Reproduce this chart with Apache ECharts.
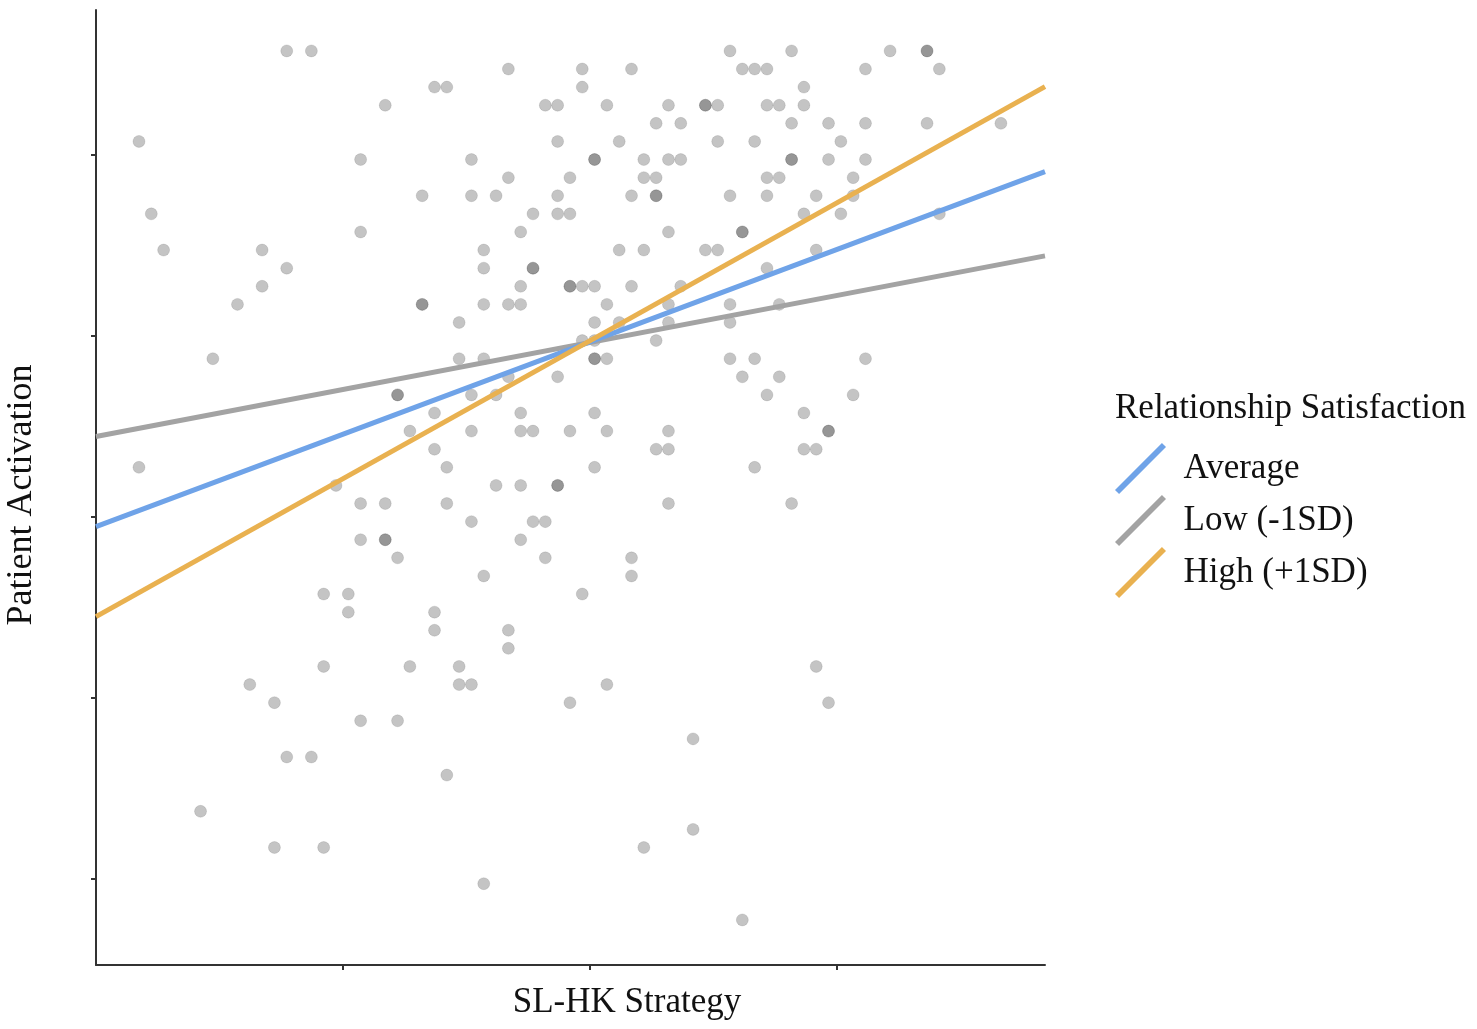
<!DOCTYPE html>
<html><head><meta charset="utf-8">
<script src="https://cdn.jsdelivr.net/npm/echarts@6/dist/echarts.min.js"></script>
<style>html,body{margin:0;padding:0;background:#fff}#chart{width:1477px;height:1029px}</style>
</head><body><div id="chart"></div>
<script>
// SL-HK Strategy (grid units) for every respondent
const strategyX = [
  12,14,20,0,18,23,1,18,2,10,12,10,8,23,23,
  48,30,36,40,49,24,25,36,33,34,38,43,46,46,47,42,44,34,39,47,
  27,37,37,41,43,44,30,35,41,42,27,29,34,40,42,42,48,32,34,35,
  31,43,49,49,28,39,41,46,47,28,32,32,31,35,35,36,37,40,44,
  28,30,31,38,43,48,26,37,39,43,48,36,37,42,
  53,61,64,64,50,51,59,65,54,51,52,54,53,56,59,64,70,50,57,
  53,53,56,59,51,52,58,51,55,58,54,57,65,55,51,52,
  6,21,21,22,0,16,18,20,18,20,20,21,15,17,17,
  26,28,37,37,38,48,30,34,49,27,29,24,31,37,
  27,31,32,35,38,43,24,42,43,25,37,29,31,34,34,
  25,43,27,32,33,31,33,40,28,40,36,24,24,30,30,
  50,59,52,51,58,54,56,56,54,55,50,53,
  15,22,9,11,18,21,12,14,5,11,15,
  26,26,27,38,35,45,25,45,41,28,49,
  55,56
];
// Patient Activation (grid units)
const activationY = [
  48,48,45,43,42,40,39,38,37,37,36,35,34,34,34,
  48,47,47,47,47,46,46,46,45,45,45,45,45,45,45,44,44,43,43,43,
  42,42,42,42,42,42,41,41,41,41,40,40,40,40,40,40,40,39,39,39,
  38,38,38,38,37,37,37,37,37,36,36,36,35,35,35,35,35,35,35,
  34,34,34,34,34,34,33,33,33,33,33,32,32,32,
  48,48,48,48,47,47,47,47,46,45,45,45,44,44,44,44,44,43,43,
  42,42,42,42,41,41,41,40,40,40,39,39,39,37,36,34,
  31,29,29,27,25,24,23,23,21,21,21,20,18,18,17,
  31,31,31,31,31,31,30,30,30,29,29,28,28,28,
  27,27,27,27,27,27,26,26,26,25,25,24,24,24,24,
  23,23,22,22,22,21,20,20,19,19,18,17,16,16,15,
  31,31,30,29,29,28,27,27,26,26,25,23,
  14,14,13,12,11,11,9,9,6,4,4,
  14,13,13,13,12,10,8,5,4,2,0,
  14,12
];
// simple-slope lines (start and end along the x range)
const lineX = [-3.49, 73.58];
const avgY  = [21.72, 41.33];
const lowY  = [26.70, 36.68];
const highY = [16.75, 46.03];
const seriesNames = ['Average', 'Low (-1SD)', 'High (+1SD)'];
const xTicks = [16.57, 36.63, 56.69];
const yTicks = [2.25, 12.25, 22.25, 32.25, 42.25];
const xTitle = 'SL-HK Strategy';
const yTitle = 'Patient Activation';
const legendTitle = 'Relationship Satisfaction';

const FONT = '"Liberation Serif", "Times New Roman", serif';
const pts = strategyX.map((x, i) => [x, activationY[i]]);
const mkLine = ys => lineX.map((x, i) => [x, ys[i]]);

const chart = echarts.init(document.getElementById('chart'), null, {renderer: 'canvas'});
const axisCommon = {
  type: 'value',
  axisLine: {show: true, onZero: false, lineStyle: {color: '#333', width: 2}},
  axisLabel: {show: false},
  splitLine: {show: false}
};
chart.setOption({
  animation: false,
  backgroundColor: '#ffffff',
  grid: {left: 96, right: 432, top: 10, bottom: 64},
  xAxis: Object.assign({}, axisCommon, {
    min: -3.49, max: 73.58,
    axisTick: {show: true, length: 5, lineStyle: {color: '#333', width: 2}, customValues: xTicks}
  }),
  yAxis: Object.assign({}, axisCommon, {
    min: -2.49, max: 50.26,
    axisTick: {show: true, length: 5, lineStyle: {color: '#333', width: 2}, customValues: yTicks}
  }),
  legend: {
    data: seriesNames,
    orient: 'vertical',
    left: 1110, top: 438,
    itemWidth: 52, itemHeight: 51, itemGap: 1,
    icon: 'path://M0,46 L46,0 L50,4 L4,50 Z',
    itemStyle: {borderWidth: 0},
    textStyle: {fontFamily: FONT, fontSize: 35, color: '#111', padding: [0, 0, 15, 12]},
    selectedMode: false
  },
  graphic: [
    {type: 'text', style: {text: xTitle, x: 627, y: 1003, font: '35px ' + FONT, fill: '#111', align: 'center', verticalAlign: 'middle'}},
    {type: 'text', x: 22, y: 495, rotation: Math.PI / 2, style: {text: yTitle, x: 0, y: 0, font: '36px ' + FONT, fill: '#111', align: 'center', verticalAlign: 'middle'}},
    {type: 'text', style: {text: legendTitle, x: 1115, y: 409, font: '35px ' + FONT, fill: '#111', align: 'left', verticalAlign: 'middle'}}
  ],
  series: [
    {
      name: 'points', type: 'scatter', data: pts, symbolSize: 12,
      itemStyle: {color: 'rgba(0,0,0,0.29)', borderColor: 'rgba(0,0,0,0.12)', borderWidth: 1},
      emphasis: {disabled: true}, z: 1
    },
    {name: seriesNames[1], type: 'line', data: mkLine(lowY), showSymbol: false, color: '#a3a3a3',
      lineStyle: {color: '#a3a3a3', width: 5}, emphasis: {disabled: true}, z: 2},
    {name: seriesNames[0], type: 'line', data: mkLine(avgY), showSymbol: false, color: '#6fa3e8',
      lineStyle: {color: '#6fa3e8', width: 5}, emphasis: {disabled: true}, z: 3},
    {name: seriesNames[2], type: 'line', data: mkLine(highY), showSymbol: false, color: '#e9b150',
      lineStyle: {color: '#e9b150', width: 5}, emphasis: {disabled: true}, z: 4}
  ]
});
</script></body></html>
